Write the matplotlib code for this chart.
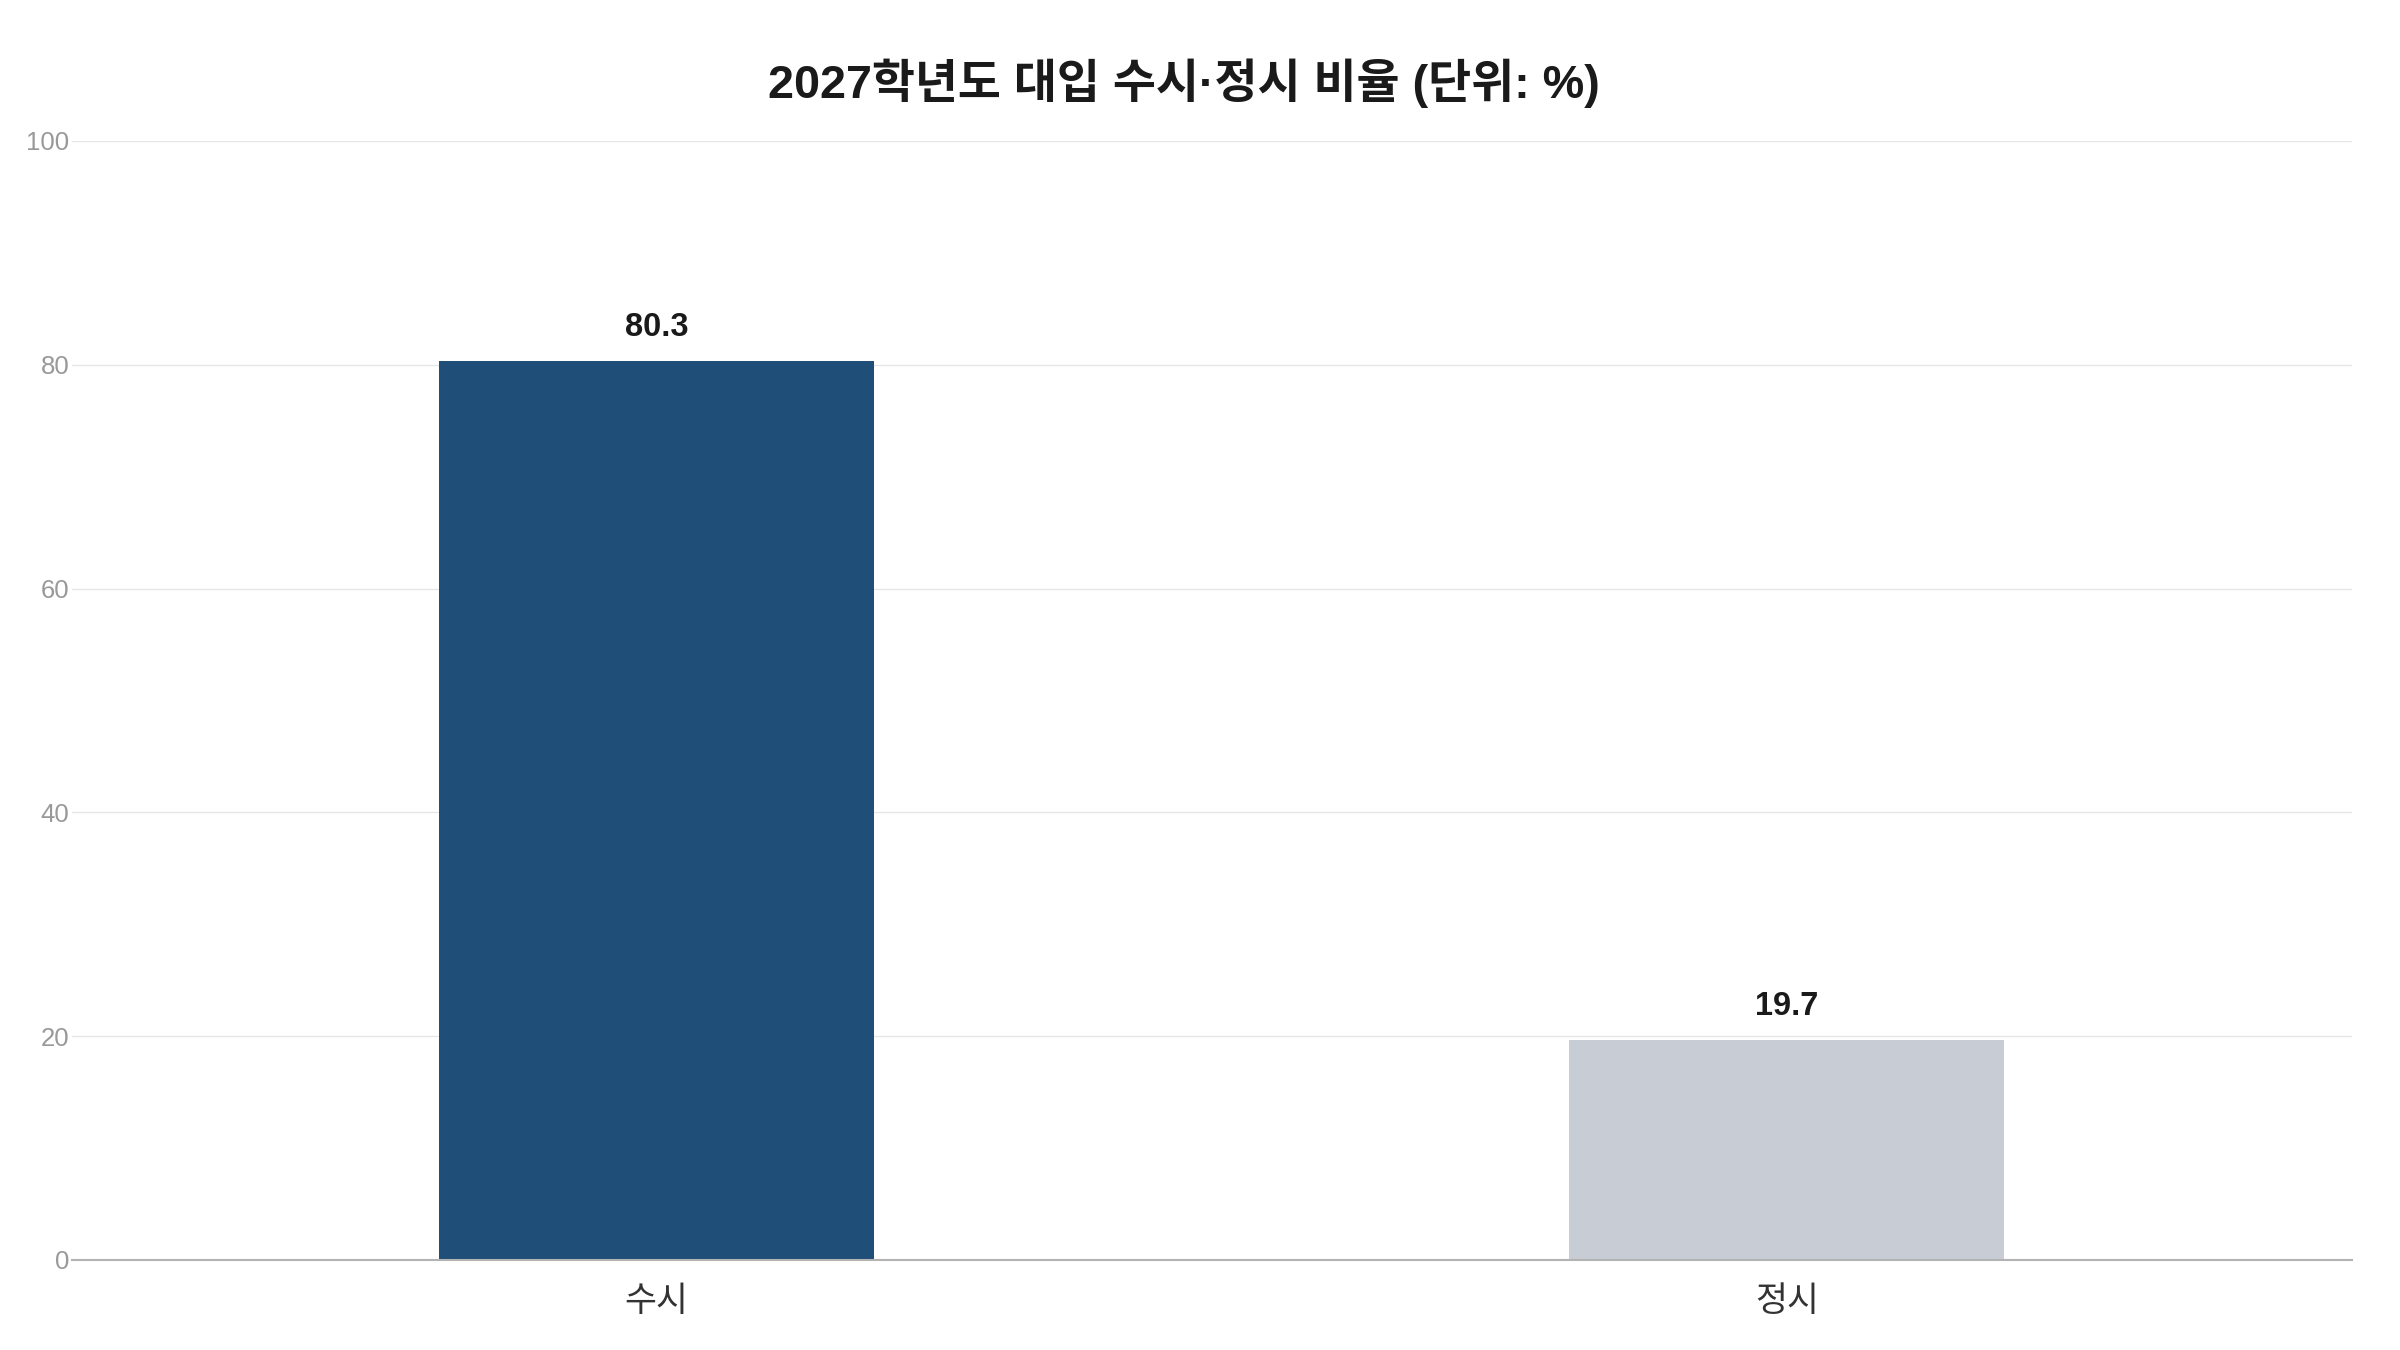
import matplotlib
matplotlib.use("Agg")
import matplotlib.pyplot as plt

FONTS = ["Liberation Sans", "Noto Sans CJK KR", "DejaVu Sans"]
plt.rcParams["font.family"] = FONTS

TITLE = "2027학년도 대입 수시·정시 비율 (단위: %)"
CATEGORIES = ["수시", "정시"]
VALUES = [80.3, 19.7]
BAR_COLORS = ["#1f4e79", "#c8cdd5"]
Y_TICKS = [0, 20, 40, 60, 80, 100]


def main():
    fig = plt.figure(figsize=(24, 13.5), dpi=100)
    ax = fig.add_axes([0.03, 0.0667, 0.95, 0.8289])

    x = list(range(len(CATEGORIES)))
    bars = ax.bar(x, VALUES, width=0.385, color=BAR_COLORS, zorder=2)

    for bar, value in zip(bars, VALUES):
        ax.annotate(
            f"{value:.1f}",
            (bar.get_x() + bar.get_width() / 2, bar.get_height()),
            xytext=(0, 18),
            textcoords="offset pixels",
            ha="center",
            va="bottom",
            fontsize=23.5,
            fontweight="bold",
            color="#1a1a1a",
        )

    ax.set_xlim(-0.517, 1.5)
    ax.set_ylim(0, 100)
    ax.set_xticks(x)
    ax.set_xticklabels(CATEGORIES, fontsize=25, color="#333333")
    ax.set_yticks(Y_TICKS)
    ax.set_yticklabels([str(t) for t in Y_TICKS], fontsize=18.5, color="#999999")
    ax.tick_params(axis="both", length=0)
    ax.tick_params(axis="y", pad=2)
    ax.tick_params(axis="x", pad=18)

    ax.grid(axis="y", color="#e6e6e6", linewidth=1.0, zorder=0)
    ax.set_axisbelow(True)
    for side in ["top", "right", "left"]:
        ax.spines[side].set_visible(False)
    ax.spines["bottom"].set_color("#b3b3b3")
    ax.spines["bottom"].set_linewidth(1.5)
    ax.spines["bottom"].set_zorder(3)

    fig.text(
        0.4935, 0.938, TITLE,
        ha="center", va="center",
        fontsize=33.7, fontweight="bold", color="#1a1a1a",
    )

    fig.savefig("out.png", dpi=100, facecolor="white")


if __name__ == "__main__":
    main()
